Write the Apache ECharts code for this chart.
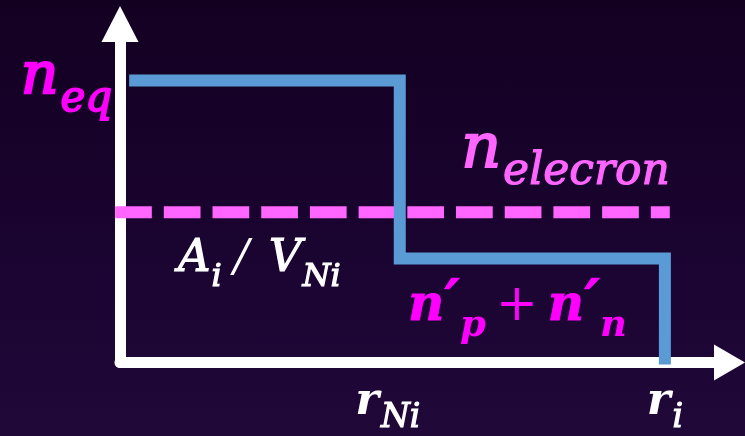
<!DOCTYPE html>
<html>
<head>
<meta charset="utf-8">
<script src="https://cdn.jsdelivr.net/npm/echarts@6/dist/echarts.min.js"></script>
<style>
    html, body { margin: 0; padding: 0; }
    #chart {
        width: 745px;
        height: 436px;
        background: linear-gradient(to bottom, #130021 0%, #1a0430 55%, #200839 100%);
    }
</style>
</head>
<body>
<div id="chart"></div>
<script>
// radius (x) in arbitrary units, axis runs 0..100
var rNi = 45.9;
var rI = 89.4;
var stepStart = 1.5;
var dashStart = -0.8;
var dashEnd = 90.2;
// density (y) in arbitrary units, axis runs 0..100
var nEq = 83.3;
var nNuc = 30.7;      // n'p + n'n
var nElectron = 44.4; // A_i / V_Ni
var floorLevel = -0.6;

var xTickValues = [rNi, rI];
var xTickNames = ["{r|r}{sNi|Ni}", "{r|r}{s|i}"];

var FONT = "DejaVu Serif";

// italic math text, thickened with an outline of the same colour
function mathText(color, size, extra) {
    var s = {
        fontFamily: FONT,
        fontStyle: "italic",
        fontWeight: "normal",
        fontSize: size,
        lineHeight: size,
        verticalAlign: "top",
        color: color,
        textBorderColor: color,
        textBorderWidth: 1.2
    };
    for (var k in extra) s[k] = extra[k];
    return s;
}

var chart = echarts.init(document.getElementById("chart"));

chart.setOption({
    animation: false,
    backgroundColor: "transparent",
    grid: { left: 120, right: 15.5, top: 24, bottom: 70 },
    xAxis: {
        type: "value",
        min: 0,
        max: 100,
        splitLine: { show: false },
        axisTick: { show: false },
        axisLine: {
            onZero: false,
            symbol: ["none", "triangle"],
            symbolSize: [36, 31],
            lineStyle: { color: "#ffffff", width: 11 }
        },
        axisLabel: {
            customValues: xTickValues,
            margin: 17,
            formatter: function (value) {
                for (var i = 0; i < xTickValues.length; i++) {
                    if (Math.abs(value - xTickValues[i]) < 0.01) return xTickNames[i];
                }
                return "";
            },
            rich: {
                r: mathText("#ffffff", 45, { fontWeight: "bold", textBorderWidth: 0 }),
                s: mathText("#ffffff", 33, { padding: [23, 0, 0, 2] }),
                sNi: mathText("#ffffff", 33, { padding: [23, 24, 0, 2] })
            }
        }
    },
    yAxis: {
        type: "value",
        min: 0,
        max: 100,
        splitLine: { show: false },
        axisTick: { show: false },
        axisLabel: { show: false },
        axisLine: {
            onZero: false,
            symbol: ["none", "triangle"],
            symbolSize: [37, 36],
            lineStyle: { color: "#ffffff", width: 11 }
        }
    },
    series: [
        {
            type: "line",
            name: "electron",
            clip: false,
            symbol: "circle",
            symbolSize: 0,
            showSymbol: true,
            lineStyle: { color: "#ff66ff", width: 12, type: [36.7, 12], cap: "butt" },
            data: [
                {
                    value: [dashStart, nElectron],
                    label: {
                        show: true,
                        position: [63, 25],
                        align: "left",
                        verticalAlign: "top",
                        formatter: "{m|A}{s|i}{sl|/}{m|V}{s|Ni}",
                        rich: {
                            m: mathText("#ffffff", 45),
                            sl: mathText("#ffffff", 45, { padding: [0, 20, 0, 12], textBorderWidth: 0 }),
                            s: mathText("#ffffff", 32, { padding: [25, 0, 0, 1] })
                        }
                    }
                },
                {
                    value: [dashEnd, nElectron],
                    label: {
                        show: true,
                        position: [0, -92],
                        align: "right",
                        verticalAlign: "top",
                        formatter: "{m|n}{s|elecron}",
                        rich: {
                            m: mathText("#ff66ff", 62, { textBorderWidth: 2 }),
                            s: mathText("#ff66ff", 44, { padding: [30, 0, 0, 2] })
                        }
                    }
                }
            ]
        },
        {
            type: "line",
            name: "nucleon",
            clip: false,
            step: "end",
            symbol: "circle",
            symbolSize: 0,
            showSymbol: true,
            lineStyle: { color: "#5b9bd5", width: 12, join: "miter", cap: "butt" },
            data: [
                {
                    value: [stepStart, nEq],
                    label: {
                        show: true,
                        position: [-17, -32],
                        align: "right",
                        verticalAlign: "top",
                        formatter: "{m|n}{s|eq}",
                        rich: {
                            m: mathText("#ff00ff", 58, { textBorderWidth: 2.5 }),
                            s: mathText("#ff00ff", 42, { padding: [31, 0, 0, 2], textBorderWidth: 1.8 })
                        }
                    }
                },
                { value: [rNi, nNuc] },
                {
                    value: [rI, floorLevel],
                    label: {
                        show: true,
                        position: [-38, -88],
                        align: "right",
                        verticalAlign: "top",
                        formatter: "{m|n}{pr|\u2032}{s|p}{pl|+}{m|n}{pr|\u2032}{s|n}",
                        rich: {
                            m: mathText("#ff00ff", 50, { fontWeight: "bold", textBorderWidth: 0.8, padding: [6, 0, 0, 0] }),
                            pr: mathText("#ff00ff", 60, { fontWeight: "bold", textBorderWidth: 0.6 }),
                            pl: mathText("#ff00ff", 50, { fontStyle: "normal", textBorderWidth: 0, padding: [6, 10, 0, 10] }),
                            s: mathText("#ff00ff", 37, { fontWeight: "bold", textBorderWidth: 0, padding: [31, 0, 0, 0] })
                        }
                    }
                }
            ]
        }
    ]
});
</script>
</body>
</html>
